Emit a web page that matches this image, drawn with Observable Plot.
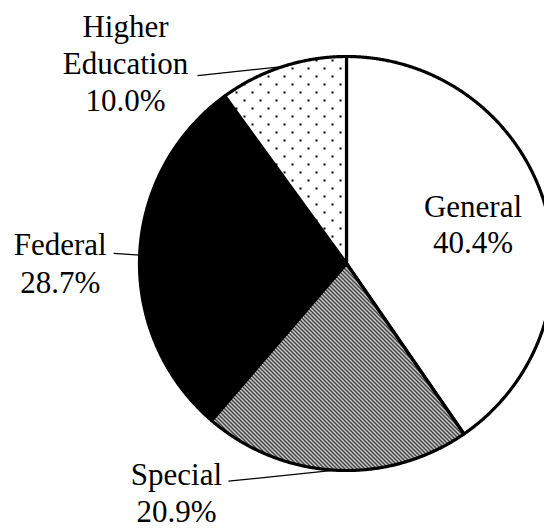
<!DOCTYPE html>
<html><head><meta charset="utf-8">
<script src="https://cdn.jsdelivr.net/npm/d3@7"></script>
<script src="https://cdn.jsdelivr.net/npm/@observablehq/plot@0.6"></script>
<style>
html,body{margin:0;padding:0;background:#fff;overflow:hidden;}
#chart svg{overflow:hidden;display:block;}
#chart text{font-family:"Liberation Serif",serif !important;}
</style></head><body><div id="chart"></div>
<script>
// ---- data ----
const categories = ["General", "Special", "Federal", "Higher Education"];
const shares = [40.4, 20.9, 28.7, 10.0];
const labelNames = [["General"], ["Special"], ["Federal"], ["Higher", "Education"]];
const percentLabels = ["40.4%", "20.9%", "28.7%", "10.0%"];
const sliceFills = ["white", "url(#hatch)", "black", "url(#dots)"];

// ---- layout (styling only) ----
const W = 544, H = 529, CX = 346, CY = 263, R = 207;
const layout = {
  "General":          {anchorR: 0.66, lead: null,       tdx: -4,    tdy: [-6, 30]},
  "Special":          {anchorR: 1,    lead: [-107, 11], tdx: -52,   tdy: [4, 41]},
  "Federal":          {anchorR: 1,    lead: [-26, -1.6], tdx: -53.5, tdy: [2, 40]},
  "Higher Education": {anchorR: 1,    lead: [-85, 9],   tdx: -72,   tdy: [-39, -2, 35]}
};

const pie = d3.pie().sort(null).value(d => d)(shares);

// slice outlines in unit-circle coordinates
const slicePts = [];
pie.forEach((p, i) => {
  const n = Math.max(2, Math.ceil((p.endAngle - p.startAngle) / 0.005));
  slicePts.push({cat: categories[i], fill: sliceFills[i], x: 0, y: 0});
  for (let k = 0; k <= n; k++) {
    const a = p.startAngle + (p.endAngle - p.startAngle) * k / n;
    slicePts.push({cat: categories[i], fill: sliceFills[i], x: Math.sin(a), y: Math.cos(a)});
  }
  slicePts.push({cat: categories[i], fill: sliceFills[i], x: 0, y: 0});
});

const leaders = [];
const texts = [];
pie.forEach((p, i) => {
  const cat = categories[i];
  const L = layout[cat];
  const a = (p.startAngle + p.endAngle) / 2;
  const ax = L.anchorR * Math.sin(a), ay = L.anchorR * Math.cos(a);
  let ex = ax, ey = ay;
  if (L.lead) {
    ex = ax + L.lead[0] / R; ey = ay - L.lead[1] / R;
    leaders.push({cat, x1: ax, y1: ay, x2: ex, y2: ey});
  }
  const lines = [...labelNames[i], percentLabels[i]];
  lines.forEach((t, j) => {
    texts.push({cat, text: t, x: ex + L.tdx / R, y: ey - L.tdy[j] / R});
  });
});

const chart = Plot.plot({
  width: W, height: H,
  margin: 0,
  x: {domain: [-1, 1], range: [CX - R, CX + R], axis: null},
  y: {domain: [-1, 1], range: [CY + R, CY - R], axis: null},
  color: {type: "identity"},
  marks: [
    Plot.line(slicePts, {x: "x", y: "y", z: "cat", fill: "fill", stroke: "black", strokeWidth: 3.2, strokeLinejoin: "round", curve: "linear"}),
    Plot.link(leaders, {x1: "x1", y1: "y1", x2: "x2", y2: "y2", stroke: "black", strokeWidth: 1.3}),
    Plot.text(texts, {x: "x", y: "y", text: "text", textAnchor: "middle", lineAnchor: "bottom", fontFamily: "Liberation Serif", fontSize: 31, fill: "black"})
  ]
});

const svg = d3.select(chart);
const defs = svg.insert("defs", ":first-child");
const hatch = defs.append("pattern").attr("id", "hatch").attr("patternUnits", "userSpaceOnUse").attr("width", 4).attr("height", 4);
hatch.append("rect").attr("width", 4).attr("height", 4).attr("fill", "white");
hatch.append("path").attr("d", "M-1,-1L5,5M3,-1L5,1M-1,3L1,5").attr("stroke", "black").attr("stroke-width", 1.3).attr("fill", "none");
const dots = defs.append("pattern").attr("id", "dots").attr("patternUnits", "userSpaceOnUse").attr("width", 16).attr("height", 16);
dots.append("rect").attr("width", 16).attr("height", 16).attr("fill", "white");
dots.append("rect").attr("x", 3).attr("y", 3).attr("width", 2).attr("height", 2).attr("fill", "black");
dots.append("rect").attr("x", 11).attr("y", 11).attr("width", 2).attr("height", 2).attr("fill", "black");

document.getElementById("chart").appendChild(chart);
</script>
</body></html>
